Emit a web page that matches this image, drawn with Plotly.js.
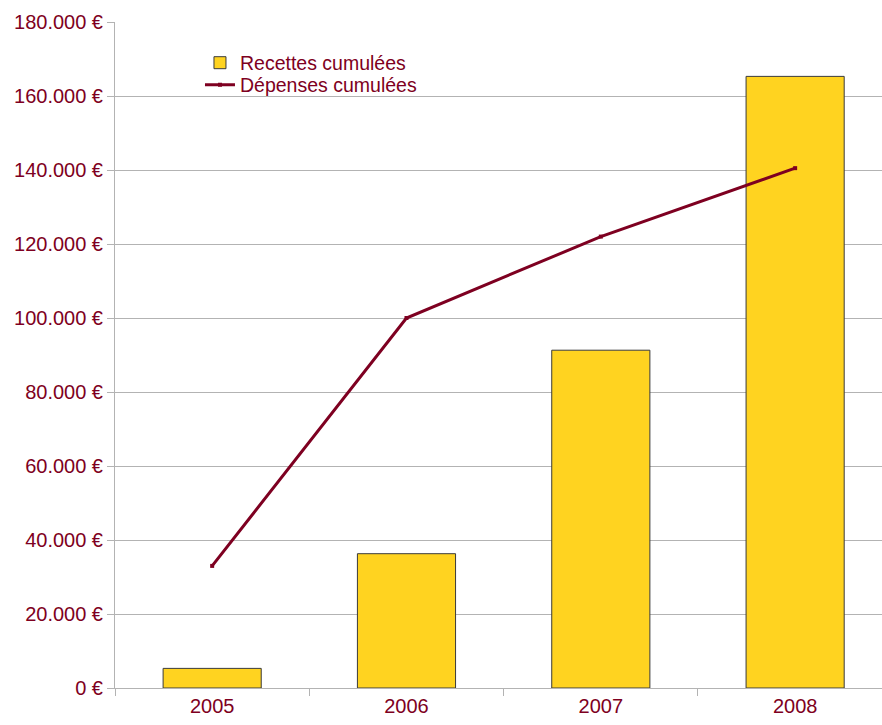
<!DOCTYPE html>
<html>
<head>
<meta charset="utf-8">
<script src="https://cdn.plot.ly/plotly-3.0.1.min.js"></script>
<style>html,body{margin:0;padding:0;background:#fff;}#chart{width:882px;height:725px;}</style>
</head>
<body>
<div id="chart"></div>
<script>
const years = ["2005", "2006", "2007", "2008"];
const recettes = [5300, 36300, 91300, 165300];
const depenses = [33000, 100000, 122000, 140500];
const yTicks = [0, 20000, 40000, 60000, 80000, 100000, 120000, 140000, 160000, 180000];
const yTickText = ["0 €", "20.000 €", "40.000 €", "60.000 €", "80.000 €", "100.000 €", "120.000 €", "140.000 €", "160.000 €", "180.000 €"];

const textColor = "#7E0021";

const traces = [
  {
    type: "bar",
    name: "Recettes cumulées",
    x: years,
    y: recettes,
    width: 0.505,
    marker: {color: "#FFD320", line: {color: "#3a3a3a", width: 1}},
    legend: "legend"
  },
  {
    type: "scatter",
    mode: "lines+markers",
    name: "Dépenses cumulées",
    x: years,
    y: depenses,
    line: {color: "#7E0021", width: 3},
    marker: {symbol: "square", size: 4, color: "#7E0021"},
    legend: "legend2"
  }
];

const legendBase = {
  xanchor: "left", yanchor: "middle",
  bgcolor: "rgba(0,0,0,0)",
  font: {size: 19.5, color: textColor},
  itemwidth: 30
};

const layout = {
  width: 882,
  height: 725,
  margin: {l: 115, r: 0, t: 22, b: 37, pad: 0},
  paper_bgcolor: "#ffffff",
  plot_bgcolor: "#ffffff",
  font: {family: "Liberation Sans, Arial, sans-serif", size: 20, color: textColor},
  showlegend: true,
  legend: Object.assign({x: 0.1108, y: 0.9384}, legendBase),
  legend2: Object.assign({x: 0.1108, y: 0.9054}, legendBase),
  xaxis: {
    type: "category",
    range: [-0.5, 3.447],
    tickson: "boundaries",
    ticks: "outside",
    ticklen: 7,
    tickcolor: "#b3b3b3",
    showline: true,
    linecolor: "#b3b3b3",
    linewidth: 1,
    showgrid: false,
    zeroline: false,
    tickfont: {size: 20, color: textColor},
    fixedrange: true
  },
  yaxis: {
    range: [0, 180000],
    tickmode: "array",
    tickvals: yTicks,
    ticktext: yTickText,
    ticks: "outside",
    ticklen: 7,
    tickcolor: "#b3b3b3",
    showline: true,
    linecolor: "#b3b3b3",
    linewidth: 1,
    showgrid: true,
    gridcolor: "#b3b3b3",
    gridwidth: 1,
    zeroline: false,
    tickfont: {size: 20, color: textColor},
    fixedrange: true
  }
};

Plotly.newPlot("chart", traces, layout, {displayModeBar: false, staticPlot: true});
</script>
</body>
</html>
